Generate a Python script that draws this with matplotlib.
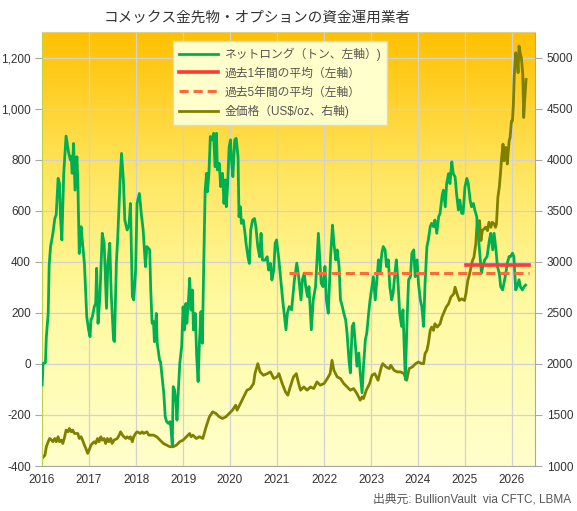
import numpy as np
import matplotlib
matplotlib.use("Agg")
import matplotlib.pyplot as plt
from matplotlib.colors import LinearSegmentedColormap
from matplotlib.ticker import FuncFormatter

plt.rcParams['font.family'] = ['Liberation Sans', 'Noto Sans CJK JP']

# --- data (decimal years) ---
netlong_t = [
    2016.00, 2016.02, 2016.07, 2016.09, 2016.13, 2016.15, 2016.18, 2016.23, 2016.27, 2016.30,
    2016.34, 2016.37, 2016.39, 2016.42, 2016.46, 2016.51, 2016.56, 2016.60, 2016.62, 2016.64,
    2016.67, 2016.70, 2016.74, 2016.76, 2016.79, 2016.83, 2016.86, 2016.90, 2016.95, 2016.99,
    2017.02, 2017.04, 2017.07, 2017.11, 2017.14, 2017.16, 2017.19, 2017.23, 2017.28, 2017.32,
    2017.37, 2017.40, 2017.44, 2017.47, 2017.52, 2017.54, 2017.58, 2017.61, 2017.66, 2017.69,
    2017.73, 2017.76, 2017.81, 2017.85, 2017.88, 2017.92, 2017.95, 2017.99, 2018.02, 2018.07,
    2018.11, 2018.15, 2018.20, 2018.23, 2018.29, 2018.31, 2018.34, 2018.37, 2018.39, 2018.43,
    2018.45, 2018.50, 2018.52, 2018.56, 2018.59, 2018.62, 2018.65, 2018.69, 2018.72, 2018.74,
    2018.77, 2018.79, 2018.82, 2018.85, 2018.87, 2018.90, 2018.93, 2018.97, 2019.00, 2019.03,
    2019.06, 2019.08, 2019.12, 2019.14, 2019.17, 2019.20, 2019.22, 2019.26, 2019.29, 2019.32,
    2019.35, 2019.38, 2019.41, 2019.44, 2019.47, 2019.50, 2019.52, 2019.55, 2019.58, 2019.62,
    2019.65, 2019.68, 2019.71, 2019.73, 2019.77, 2019.80, 2019.84, 2019.87, 2019.90, 2019.92,
    2019.95, 2019.98, 2020.01, 2020.03, 2020.06, 2020.10, 2020.13, 2020.17, 2020.19, 2020.22,
    2020.24, 2020.28, 2020.31, 2020.34, 2020.38, 2020.41, 2020.44, 2020.48, 2020.52, 2020.55,
    2020.59, 2020.63, 2020.66, 2020.69, 2020.75, 2020.79, 2020.82, 2020.86, 2020.89, 2020.93,
    2020.96, 2020.99, 2021.04, 2021.12, 2021.19, 2021.22, 2021.26, 2021.31, 2021.37, 2021.42,
    2021.46, 2021.51, 2021.54, 2021.58, 2021.61, 2021.65, 2021.68, 2021.73, 2021.77, 2021.82,
    2021.88, 2021.91, 2021.94, 2021.98, 2022.02, 2022.05, 2022.09, 2022.14, 2022.18, 2022.21,
    2022.25, 2022.28, 2022.32, 2022.35, 2022.39, 2022.42, 2022.46, 2022.49, 2022.53, 2022.56,
    2022.60, 2022.63, 2022.67, 2022.70, 2022.74, 2022.77, 2022.81, 2022.84, 2022.88, 2022.91,
    2022.95, 2022.98, 2023.02, 2023.05, 2023.09, 2023.16, 2023.19, 2023.23, 2023.26, 2023.30,
    2023.33, 2023.37, 2023.40, 2023.44, 2023.47, 2023.51, 2023.54, 2023.58, 2023.61, 2023.65,
    2023.68, 2023.73, 2023.77, 2023.80, 2023.84, 2023.87, 2023.91, 2023.94, 2023.98, 2024.01,
    2024.05, 2024.08, 2024.12, 2024.15, 2024.19, 2024.22, 2024.26, 2024.29, 2024.33, 2024.36,
    2024.40, 2024.44, 2024.47, 2024.51, 2024.54, 2024.58, 2024.61, 2024.65, 2024.68, 2024.72,
    2024.75, 2024.79, 2024.82, 2024.86, 2024.89, 2024.93, 2024.96, 2025.00, 2025.04, 2025.07,
    2025.11, 2025.14, 2025.18, 2025.21, 2025.25, 2025.28, 2025.31, 2025.35, 2025.38, 2025.42,
    2025.47, 2025.52, 2025.55, 2025.59, 2025.62, 2025.66, 2025.69, 2025.73, 2025.76, 2025.80,
    2025.83, 2025.87, 2025.90, 2025.94, 2025.97, 2026.01, 2026.04, 2026.08, 2026.11, 2026.15,
    2026.18, 2026.22, 2026.26, 2026.29,
]
netlong_v = [
    -82, 2, 5, 107, 200, 388, 460, 512, 570, 585,
    727, 708, 577, 486, 747, 893, 832, 800, 812, 747,
    864, 681, 812, 721, 433, 538, 473, 394, 185, 133,
    107, 172, 185, 224, 237, 375, 159, 264, 512, 473,
    218, 394, 473, 277, 94, 88, 394, 499, 721, 825,
    721, 564, 525, 544, 629, 264, 251, 368, 629, 668,
    590, 525, 381, 460, 447, 300, 159, 166, 87, 198,
    81, 15, 9, -63, -115, -207, -226, -233, -226, -246,
    -318, -89, -102, -154, -220, -102, 2, 68, 224, 133,
    237, 159, 264, 336, 211, 290, 133, 198, 28, -69,
    94, 205, 81, 394, 681, 747, 675, 747, 891, 878,
    904, 773, 904, 760, 786, 695, 747, 629, 721, 616,
    708, 851, 878, 799, 734, 878, 884, 812, 577, 616,
    551, 564, 525, 473, 420, 394, 525, 564, 570, 538,
    460, 420, 512, 407, 407, 420, 368, 394, 329, 368,
    473, 486, 407, 251, 134, 199, 225, 212, 330, 395,
    342, 251, 330, 356, 303, 264, 303, 134, 251, 303,
    512, 408, 316, 303, 382, 251, 199, 421, 544, 473,
    408, 447, 382, 251, 225, 199, 173, 121, 17, -35,
    147, 160, 69, -9, 43, -35, -113, -9, 95, 121,
    199, 251, 303, 342, 251, 408, 356, 434, 460, 447,
    382, 408, 303, 251, 277, 356, 408, 303, 199, 147,
    212, -61, 186, 330, 342, 434, 447, 342, 408, 316,
    251, 225, 147, 316, 460, 486, 538, 551, 538, 564,
    512, 577, 590, 655, 681, 616, 707, 746, 707, 792,
    746, 733, 668, 603, 642, 590, 590, 694, 727, 707,
    642, 616, 629, 603, 577, 512, 447, 356, 382, 408,
    421, 486, 512, 447, 512, 447, 382, 356, 303, 290,
    316, 356, 395, 421, 421, 434, 421, 290, 303, 330,
    303, 290, 303, 309,
]

gold_t = [
    2016.00, 2016.06, 2016.09, 2016.13, 2016.16, 2016.20, 2016.23, 2016.27, 2016.30, 2016.34,
    2016.37, 2016.41, 2016.44, 2016.48, 2016.51, 2016.55, 2016.58, 2016.62, 2016.65, 2016.69,
    2016.76, 2016.79, 2016.83, 2016.86, 2016.90, 2016.93, 2016.97, 2017.00, 2017.04, 2017.07,
    2017.11, 2017.14, 2017.18, 2017.21, 2017.25, 2017.28, 2017.32, 2017.35, 2017.39, 2017.42,
    2017.46, 2017.49, 2017.53, 2017.60, 2017.64, 2017.67, 2017.71, 2017.74, 2017.78, 2017.81,
    2017.85, 2017.88, 2017.92, 2017.95, 2017.99, 2018.02, 2018.09, 2018.13, 2018.16, 2018.23,
    2018.27, 2018.37, 2018.44, 2018.51, 2018.58, 2018.65, 2018.72, 2018.79, 2018.86, 2018.93,
    2019.00, 2019.07, 2019.14, 2019.17, 2019.21, 2019.28, 2019.35, 2019.42, 2019.49, 2019.56,
    2019.63, 2019.70, 2019.77, 2019.84, 2019.91, 2019.98, 2020.05, 2020.12, 2020.15, 2020.22,
    2020.29, 2020.36, 2020.43, 2020.50, 2020.53, 2020.59, 2020.64, 2020.71, 2020.79, 2020.86,
    2020.93, 2021.00, 2021.04, 2021.11, 2021.18, 2021.23, 2021.28, 2021.35, 2021.41, 2021.46,
    2021.50, 2021.57, 2021.64, 2021.71, 2021.78, 2021.85, 2021.92, 2022.00, 2022.07, 2022.13,
    2022.17, 2022.21, 2022.28, 2022.35, 2022.42, 2022.49, 2022.56, 2022.63, 2022.70, 2022.77,
    2022.81, 2022.84, 2022.90, 2022.97, 2023.02, 2023.08, 2023.15, 2023.22, 2023.25, 2023.32,
    2023.39, 2023.42, 2023.49, 2023.56, 2023.63, 2023.70, 2023.76, 2023.81, 2023.88, 2023.95,
    2024.01, 2024.08, 2024.12, 2024.15, 2024.19, 2024.22, 2024.26, 2024.29, 2024.33, 2024.36,
    2024.41, 2024.47, 2024.51, 2024.57, 2024.60, 2024.65, 2024.70, 2024.76, 2024.79, 2024.83,
    2024.88, 2024.93, 2024.99, 2025.02, 2025.06, 2025.09, 2025.13, 2025.16, 2025.19, 2025.23,
    2025.26, 2025.28, 2025.31, 2025.34, 2025.37, 2025.44, 2025.48, 2025.51, 2025.55, 2025.58,
    2025.62, 2025.65, 2025.67, 2025.70, 2025.73, 2025.76, 2025.78, 2025.81, 2025.83, 2025.87,
    2025.90, 2025.94, 2025.96, 2025.99, 2026.01, 2026.03, 2026.05, 2026.08, 2026.10, 2026.11,
    2026.13, 2026.15, 2026.18, 2026.20, 2026.23, 2026.25, 2026.27, 2026.30,
]
gold_v = [
    1075, 1107, 1189, 1238, 1270, 1254, 1238, 1270, 1238, 1287,
    1238, 1254, 1221, 1287, 1352, 1335, 1368, 1335, 1352, 1319,
    1319, 1270, 1287, 1254, 1205, 1173, 1124, 1156, 1205, 1221,
    1238, 1221, 1270, 1238, 1287, 1254, 1270, 1221, 1270, 1238,
    1270, 1221, 1254, 1270, 1303, 1335, 1303, 1287, 1270, 1287,
    1270, 1287, 1238, 1287, 1319, 1335, 1319, 1335, 1319, 1335,
    1303, 1303, 1287, 1254, 1221, 1205, 1189, 1189, 1205, 1238,
    1254, 1287, 1319, 1287, 1303, 1270, 1287, 1270, 1384, 1482,
    1531, 1515, 1482, 1466, 1482, 1515, 1547, 1596, 1547, 1612,
    1677, 1743, 1759, 1808, 1905, 2003, 1922, 1889, 1905, 1922,
    1857, 1873, 1905, 1808, 1726, 1694, 1775, 1873, 1905, 1808,
    1743, 1775, 1743, 1775, 1759, 1824, 1792, 1808, 1857, 1905,
    2036, 1938, 1873, 1857, 1808, 1775, 1743, 1759, 1710, 1645,
    1677, 1661, 1743, 1808, 1889, 1905, 1840, 1971, 2003, 1971,
    1954, 1987, 1938, 1922, 1922, 1905, 1840, 1954, 1971, 2003,
    2019, 2003, 2003, 2101, 2133, 2199, 2329, 2361, 2329, 2394,
    2361, 2394, 2459, 2524, 2557, 2589, 2655, 2687, 2752, 2687,
    2622, 2638, 2622, 2688, 2818, 2867, 2948, 3013, 3046, 3176,
    3404, 3339, 3404, 3209, 3306, 3339, 3306, 3388, 3339, 3388,
    3372, 3339, 3372, 3632, 3730, 3893, 4023, 4153, 3990, 4121,
    3958, 4186, 4218, 4381, 4381, 4544, 4837, 5049, 4935, 5000,
    4853, 5114, 5033, 5000, 4837, 4414, 4577, 4788,
]

avg1y_t = [2025.03, 2026.36]
avg1y_v = [386, 386]
avg5y_t = [2021.26, 2026.36]
avg5y_v = [358, 358]

xticks = list(range(2016, 2027))
left_ticks = list(range(-400, 1201, 200))
right_ticks = list(range(1000, 5001, 500))

labels = ['ネットロング（トン、左軸）)', '過去1年間の平均（左軸）',
          '過去5年間の平均（左軸）', '金価格（US$/oz、右軸)']

GREEN = '#00B050'
RED = '#FF3B2F'
ORANGE = '#FF6A3A'
OLIVE = '#808000'
TXT = '#333333'

fig = plt.figure(figsize=(5.77, 5.11), dpi=100)
ax2 = fig.add_axes([0.073, 0.088, 0.855, 0.849])
ax = ax2.twinx()
ax.set_zorder(ax2.get_zorder() + 1)
ax.patch.set_visible(False)

# gradient background: orange at the top, pale yellow at the bottom
bg = LinearSegmentedColormap.from_list('bg', [
    (0.0, (1.0, 0.753, 0.0)),
    (0.35, (1.0, 0.91, 0.40)),
    (0.62, (1.0, 0.98, 0.63)),
    (1.0, (1.0, 1.0, 0.80)),
])
grad = np.linspace(1, 0, 256).reshape(-1, 1)
ax2.imshow(grad, cmap=bg, vmin=0, vmax=1, aspect='auto',
           extent=[2016, 2026.5, 1000, 5250], origin='lower',
           zorder=0, interpolation='bicubic')

ax2.plot(gold_t, gold_v, color=OLIVE, lw=2.0, zorder=2)
ax2.set_xlim(2016, 2026.5)
ax2.set_ylim(1000, 5250)
ax2.set_axisbelow(True)
ax2.set_xticks(xticks)
ax2.set_yticks(right_ticks)
ax2.grid(True, color='#D2D2D2', lw=0.9)

ax.plot(netlong_t, netlong_v, color=GREEN, lw=2.0, zorder=3)
ax.plot(avg1y_t, avg1y_v, color=RED, lw=2.6, zorder=4)
ax.plot(avg5y_t, avg5y_v, color=ORANGE, lw=2.2, ls=(0, (3, 1.6)), zorder=4)
ax.set_ylim(-400, 1300)
ax.set_yticks(left_ticks)

# left axis on the left, right axis (gold) on the right
ax.yaxis.tick_left()
ax2.yaxis.tick_right()
ax.yaxis.set_major_formatter(FuncFormatter(lambda v, p: f'{int(v):,}'))

for a in (ax, ax2):
    for s in a.spines.values():
        s.set_visible(False)
ax.spines['left'].set_visible(True)
ax.spines['left'].set_color('#BCD24A')
ax.spines['bottom'].set_visible(True)
ax.spines['bottom'].set_color('#A8A8A8')
ax.spines['right'].set_visible(True)
ax.spines['right'].set_color('#A8A8A8')
ax.spines['top'].set_visible(True)
ax.spines['top'].set_color('#E0D080')

ax.tick_params(axis='y', length=5, color='#A8A8A8', labelcolor=TXT, labelsize=8.5, pad=3)
ax2.tick_params(axis='y', length=5, color='#A8A8A8', labelcolor=TXT, labelsize=8.5, pad=3)
ax2.tick_params(axis='x', length=0, labelcolor=TXT, labelsize=8.5, pad=6)
ax.tick_params(axis='x', length=0, labelbottom=False)

h_green, = ax.plot([], [], color=GREEN, lw=2.0)
h_red, = ax.plot([], [], color=RED, lw=2.6)
h_dash, = ax.plot([], [], color=ORANGE, lw=2.2, ls=(0, (3, 1.6)))
h_gold, = ax.plot([], [], color=OLIVE, lw=2.0)
leg = ax.legend([h_green, h_red, h_dash, h_gold], labels,
                loc='upper left', bbox_to_anchor=(0.265, 0.98), borderaxespad=0,
                fontsize=8.5, handlelength=3.3, handletextpad=0.5, labelspacing=0.58,
                frameon=True, fancybox=False, borderpad=0.55)
leg.get_frame().set_facecolor('#FFFFCC')
leg.get_frame().set_edgecolor('#D8D8D8')
leg.get_frame().set_alpha(1)
for t in leg.get_texts():
    t.set_color('#555555')

fig.text(0.445, 0.966, 'コメックス金先物・オプションの資金運用業者',
         ha='center', va='center', fontsize=10.5, color=TXT)
fig.text(0.99, 0.022, '出典元: BullionVault  via CFTC, LBMA',
         ha='right', va='center', fontsize=8.5, color='#555555')

fig.savefig('out.png', dpi=100)
